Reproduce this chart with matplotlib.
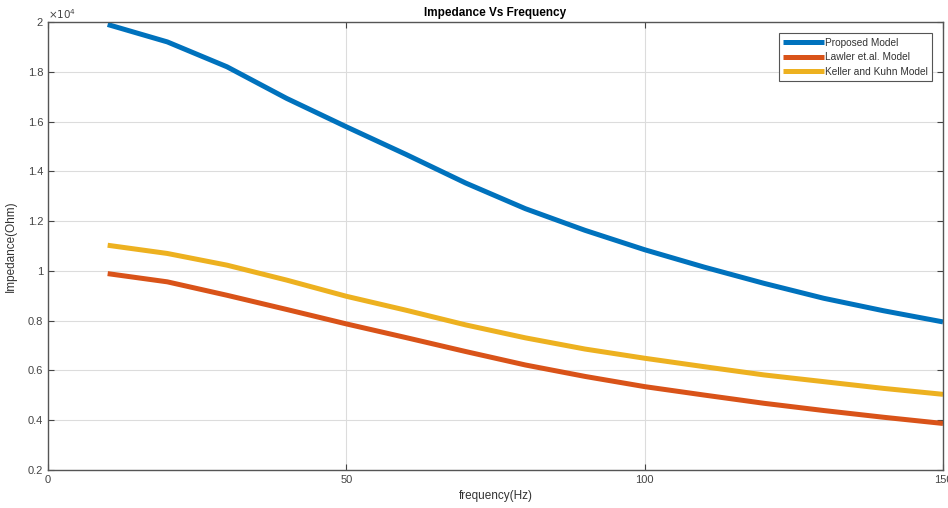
import matplotlib
matplotlib.use("Agg")
import matplotlib.pyplot as plt
from matplotlib.ticker import FuncFormatter

frequency = [10, 20, 30, 40, 50, 60, 70, 80, 90, 100, 110, 120, 130, 140, 150]
proposed = [19900, 19200, 18200, 16930, 15790, 14680, 13530, 12500, 11630, 10850, 10150, 9500, 8900, 8400, 7950]
lawler = [9890, 9560, 9020, 8450, 7870, 7320, 6760, 6220, 5760, 5350, 5010, 4680, 4390, 4120, 3870]
keller = [11030, 10700, 10230, 9630, 8980, 8420, 7830, 7310, 6860, 6490, 6150, 5820, 5550, 5280, 5040]
labels = ["Proposed Model", "Lawler et.al. Model", "Keller and Kuhn Model"]
colors = ["#0072BD", "#D95319", "#EDB120"]
xticks = [0, 50, 100, 150]
yticks = [2000, 4000, 6000, 8000, 10000, 12000, 14000, 16000, 18000, 20000]

plt.rcParams['font.family'] = ['Liberation Sans', 'DejaVu Sans']
fig = plt.figure(figsize=(9.48, 5.08), dpi=100)
ax = fig.add_axes([48/948, 38/508, 895/948, 448/508])

for series, lab, col in zip([proposed, lawler, keller], labels, colors):
    ax.plot(frequency, series, color=col, lw=3.6, label=lab, solid_capstyle='butt', solid_joinstyle='round')

ax.set_xlim(0, 150)
ax.set_ylim(2000, 20000)
ax.set_xticks(xticks)
ax.set_yticks(yticks)
ax.yaxis.set_major_formatter(FuncFormatter(lambda v, p: f"{v/1e4:g}"))
ax.grid(True, color='#dcdcdc', lw=0.8)
ax.set_axisbelow(True)
ax.tick_params(direction='in', length=4, top=True, right=True, labelsize=8, colors='#444444', labelcolor='#444444')
for s in ax.spines.values():
    s.set_color('#555555')
    s.set_linewidth(1.0)

ax.text(0.0, 1.003, r"$\times10^4$", transform=ax.transAxes, fontsize=7.5, color='#444444', va='bottom', ha='left')
ax.set_title("Impedance Vs Frequency", fontsize=8.5, fontweight='bold', pad=4)
ax.set_xlabel("frequency(Hz)", fontsize=8.5, color='#333333', labelpad=4)
ax.set_ylabel("Impedance(Ohm)", fontsize=8.5, color='#333333', labelpad=8)

leg = ax.legend(loc='upper right', bbox_to_anchor=(0.988, 0.975), borderaxespad=0, fontsize=7.3,
                handlelength=4.0, handletextpad=0.1, borderpad=0.45, labelspacing=0.45,
                fancybox=False, framealpha=1)
leg.get_frame().set_edgecolor('#555555')
leg.get_frame().set_linewidth(0.8)
for t in leg.get_texts():
    t.set_color('#333333')

fig.savefig("out.png", dpi=100)
